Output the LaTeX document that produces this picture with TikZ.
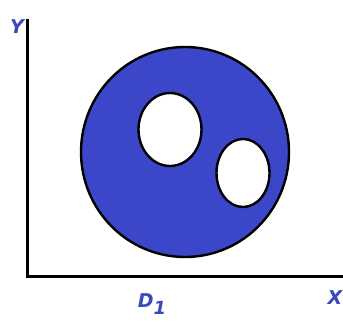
\documentclass[tikz,border=0pt]{standalone}
\usepackage{fontspec}
\usetikzlibrary{positioning}
\definecolor{RegionBlue}{HTML}{3C46C8}
\definecolor{LabelBlue}{HTML}{3A48BE}
\newfontfamily\labelfont{DejaVu Sans}
\tikzset{
  axisline/.style={line width=3pt, black},
  regionfill/.style={draw=black, fill=RegionBlue, line width=2.4pt},
  holefill/.style={draw=black, fill=white, line width=2.4pt},
  axislabel/.style={font=\labelfont\bfseries\itshape\fontsize{19}{19}\selectfont\color{LabelBlue},
                    inner sep=0pt},
}

\begin{document}
\begin{tikzpicture}[x=1pt, y=-1pt]
  \useasboundingbox (0,0) rectangle (343,331);

  \coordinate (origin) at (27,277);
  \coordinate (ytop)   at (27,19);
  \coordinate (xend)   at (344,277);

  % region D1 with two holes
  \draw[regionfill] (185,152) ellipse [x radius=104, y radius=105];
  \draw[holefill] (170,129.5) ellipse [x radius=31.5, y radius=36.5];
  \draw[holefill] (243,173) ellipse [x radius=26.5, y radius=34];

  % axes
  \draw[axisline] (ytop) -- ([yshift=1.5pt]origin) ;
  \draw[axisline] ([xshift=-1.5pt]origin) -- (xend);

  \node[axislabel] (ylab) at (17,27) {Y};
  \node[axislabel, anchor=east] (xlab) at (342.5,298) {X};
  \node[axislabel] (dlab) at (152,304)
    {D\raisebox{-7pt}{\fontsize{18}{18}\selectfont 1}};

\end{tikzpicture}
\end{document}
